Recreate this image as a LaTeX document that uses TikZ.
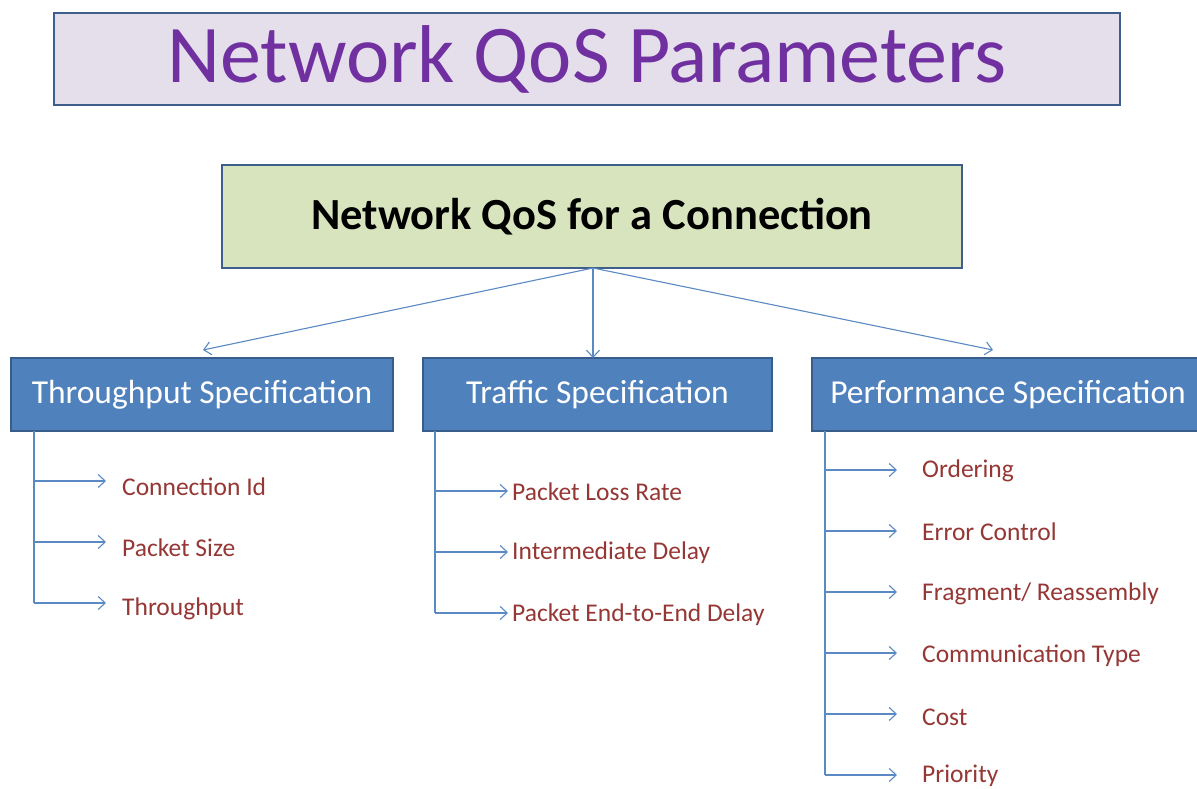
\documentclass[tikz,border=0pt]{standalone}
\usepackage{fontspec}
\setmainfont{Carlito}
\usetikzlibrary{arrows.meta}
\definecolor{titlefill}{HTML}{E5DFEC}
\definecolor{titleborder}{HTML}{3E5F8C}
\definecolor{titletext}{HTML}{7030A0}
\definecolor{greenfill}{HTML}{D7E4BD}
\definecolor{bluefill}{HTML}{4F81BD}
\definecolor{blueborder}{HTML}{385D8A}
\definecolor{itemtext}{HTML}{953735}
\definecolor{linkcol}{HTML}{5B89C4}
\tikzset{
  titlebox/.style={draw=titleborder, line width=2.5pt, fill=titlefill, minimum width=1066pt, minimum height=92pt, inner sep=0pt, text=titletext, font=\fontsize{82}{88}\selectfont},
  rootbox/.style={draw=titleborder, line width=2.5pt, fill=greenfill, minimum width=740pt, minimum height=103pt, inner sep=0pt, font=\fontsize{44.5}{50}\selectfont\bfseries},
  specbox/.style={draw=blueborder, line width=2pt, fill=bluefill, minimum height=73pt, inner sep=0pt, text=white, font=\fontsize{33.5}{38}\selectfont},
  item/.style={anchor=west, inner sep=0pt, text=itemtext, font=\fontsize{25.5}{30}\selectfont},
  link/.style={draw=linkcol, line width=1.1pt, -{Straight Barb[length=7pt,width=13pt,line width=1.1pt]}},
  tree/.style={draw=linkcol, line width=1.1pt}
}
\begin{document}
\begin{tikzpicture}[x=1pt,y=-1pt]
\useasboundingbox[fill=white] (0,0) rectangle (1197,789);
\node[titlebox] (title) at (587,59) {Network QoS Parameters};
\node[rootbox] (root) at (592,216.5) {Network QoS for a Connection};
\node[specbox, minimum width=382pt] (thr) at (202,394.5) {Throughput Specification};
\node[specbox, minimum width=349pt] (trf) at (597.5,394.5) {Traffic Specification};
\node[specbox, minimum width=392pt] (prf) at (1008,394.5) {Performance Specification};
\coordinate (rb) at (593,268);
\coordinate (ta) at (203,350);
\coordinate (tb) at (593,358);
\coordinate (tc) at (993,350);
\draw[link] (rb) -- (ta);
\draw[link] (rb) -- (tb);
\draw[link] (rb) -- (tc);
% Throughput items
\coordinate (t0) at (34,431);
\node[item] (c1) at (122,487) {Connection Id};
\node[item] (c2) at (122,548) {Packet Size};
\node[item] (c3) at (122,609) {Throughput};
\draw[tree] (t0) -- (34,603);
\draw[link] (34,481) -- (106,481);
\draw[link] (34,542) -- (106,542);
\draw[link] (34,603) -- (106,603);
% Traffic items
\coordinate (r0) at (435,431);
\node[item] (d1) at (512,492) {Packet Loss Rate};
\node[item] (d2) at (512,553) {Intermediate Delay};
\node[item] (d3) at (512,615) {Packet End-to-End Delay};
\draw[tree] (r0) -- (435,613);
\draw[link] (435,491) -- (508,491);
\draw[link] (435,552) -- (508,552);
\draw[link] (435,613) -- (508,613);
% Performance items
\coordinate (p0) at (825,431);
\node[item] (e1) at (922,471) {Ordering};
\node[item] (e2) at (922,532) {Error Control};
\node[item] (e3) at (922,594) {Fragment/ Reassembly};
\node[item] (e4) at (922,656) {Communication Type};
\node[item] (e5) at (922,717) {Cost};
\node[item] (e6) at (922,776) {Priority};
\draw[tree] (p0) -- (825,775);
\draw[link] (825,470) -- (897,470);
\draw[link] (825,531) -- (897,531);
\draw[link] (825,592) -- (897,592);
\draw[link] (825,653) -- (897,653);
\draw[link] (825,714) -- (897,714);
\draw[link] (825,775) -- (897,775);
\end{tikzpicture}
\end{document}
